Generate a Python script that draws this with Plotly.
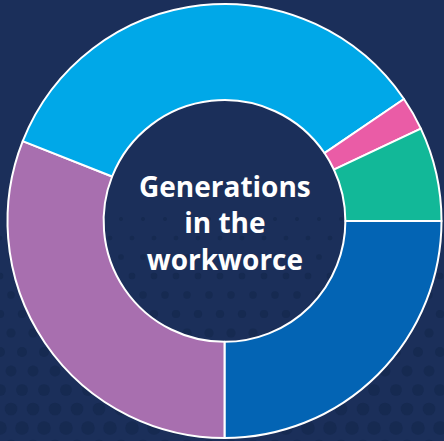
import numpy as np
import plotly.graph_objects as go

labels = ["Generation A", "Generation B", "Generation C", "Generation D", "Generation E"]
values = [25, 31, 34.5, 2.5, 7]
colors = ["#0364b4", "#a86faf", "#00a8e8", "#ea5ca6", "#12b898"]
center_text = "Generations<br>in the<br>workworce"

W, H = 444, 441
cx, cy, r = 224.5, 221, 217

# decorative halftone dot background (not data)
dot_x, dot_y, dot_s = [], [], []
for i, yy in enumerate(np.arange(H + 6, 200, -19)):
    off = 11 if i % 2 else 0
    for xx in np.arange(-11 + off, W + 22, 22):
        t = (yy - 200) / (H - 200)
        dot_x.append(xx)
        dot_y.append(yy)
        dot_s.append(3 + 11 * t)

fig = go.Figure()
fig.add_trace(go.Scatter(
    x=dot_x, y=dot_y, mode="markers",
    marker=dict(size=dot_s, color="#14284d", line=dict(width=0)),
    hoverinfo="skip", showlegend=False,
))

fig.add_trace(go.Pie(
    labels=labels,
    values=values,
    marker=dict(colors=colors, line=dict(color="#ffffff", width=2)),
    hole=0.557,
    sort=False,
    direction="clockwise",
    rotation=90,
    textinfo="none",
    hoverinfo="label+percent",
    showlegend=False,
    domain=dict(x=[(cx - r) / W, (cx + r) / W], y=[1 - (cy + r) / H, 1 - (cy - r) / H]),
))

fig.add_annotation(
    text=center_text,
    x=cx / W, y=1 - (cy + 1) / H, xref="paper", yref="paper",
    showarrow=False,
    font=dict(family="Open Sans", size=28, color="#ffffff", weight="bold"),
    align="center",
)

fig.update_layout(
    width=W, height=H,
    margin=dict(l=0, r=0, t=0, b=0),
    paper_bgcolor="#1b2f5a",
    plot_bgcolor="#1b2f5a",
    xaxis=dict(range=[0, W], visible=False, fixedrange=True),
    yaxis=dict(range=[H, 0], visible=False, fixedrange=True),
)

fig.write_html("out.html")
